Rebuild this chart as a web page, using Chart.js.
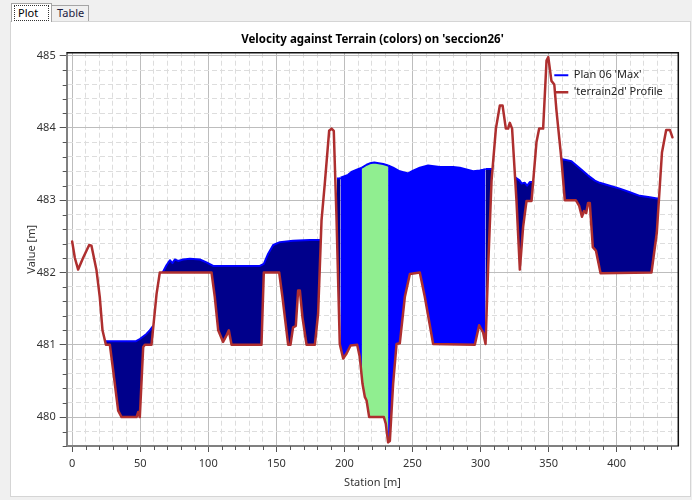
<!DOCTYPE html>
<html>
<head>
<meta charset="utf-8">
<script src="https://cdn.jsdelivr.net/npm/chart.js@4.4.1/dist/chart.umd.min.js"></script>
<style>
  body { margin: 0; width: 692px; height: 500px; background: #f0f0f0; position: relative; overflow: hidden; font-family: "Noto Sans", sans-serif; }
  .panel { position: absolute; left: 10px; top: 21px; width: 679px; height: 474px; background: #fff; border: 1px solid #d5d5d5; }
  .tab { position: absolute; box-sizing: border-box; font-size: 11px; line-height: 14px; color: #000; border: 1px solid #a5a5a5; border-bottom: none; }
  #tabPlot { left: 11px; top: 3px; width: 41px; height: 19px; background: #fff; z-index: 2; padding: 1px 2px; }
  #tabPlot span { display: block; border: 1px dotted #333; padding: 0 3px; height: 14px; }
  #tabTable { left: 51px; top: 5px; width: 38px; height: 16px; background: #f0f0f0; padding: 0 5px; color: #1a1a40; }
  #graph { position: absolute; left: 0; top: 0; }
</style>
</head>
<body>
<div class="panel"></div>
<div class="tab" id="tabPlot"><span>Plot</span></div>
<div class="tab" id="tabTable">Table</div>
<canvas id="graph" width="692" height="500"></canvas>
<script>
// terrain profile
const terrainStation = [0, 2, 4.4, 8, 12.5, 14.2, 17.9, 20.3, 22.3, 24.8, 27.7, 30.1, 33.8, 36.3, 47.3, 48.5, 49.7, 52.2, 53.4, 58.3,
  62, 64.4, 102.4, 104.8, 107.3, 110.9, 113.4, 115.1, 117.1, 139.1, 140.8, 152.1, 154.5, 158.7, 160.4, 162.3, 164.3, 166, 167.3, 169.2,
  172.2, 178.3, 180.7, 183.2, 185.6, 188.8, 190.6, 192.2, 194.2, 196.6, 199.1, 201.6, 204.5, 209.4, 211.3, 213.3, 215, 216.3, 218.2, 229,
  230.4, 232.1, 233.4, 235.8, 238.3, 240.7, 244.4, 248.1, 255.4, 259.1, 265.2, 295.8, 299, 301.9, 303.7, 305.6, 308.1, 311.3, 314.2, 316.2,
  318.6, 320.3, 321.5, 323.2, 326.4, 328.9, 331.3, 333.8, 337.5, 341.1, 343.1, 346, 348.5, 349.8, 352.1, 354.2, 355.8, 359.5, 361.9, 370,
  372.5, 374.5, 376, 377.6, 379, 380.3, 382.5, 384.8, 388.2, 425.6, 429.5, 433.3, 436.4, 439.2, 441];
const terrainElev = [482.43, 482.2, 482.04, 482.2, 482.38, 482.37, 482.03, 481.66, 481.2, 481.0, 481.0, 480.65, 480.09, 480.0, 480.0, 480.07, 480.0, 480.97, 481.0, 481.0,
  481.7, 482.0, 482.0, 481.66, 481.2, 481.04, 481.13, 481.2, 481.0, 481.0, 482.0, 482.0, 481.66, 481.0, 481.0, 481.24, 481.26, 481.75, 481.75, 481.38,
  481.0, 481.0, 481.43, 482.72, 483.23, 483.96, 483.99, 483.96, 482.76, 481.01, 480.81, 480.88, 480.99, 481.0, 480.83, 480.46, 480.28, 480.23, 480.0, 480.0,
  479.91, 479.65, 479.67, 480.46, 481.01, 481.02, 481.66, 481.98, 482.0, 481.66, 481.01, 481.0, 481.27, 481.17, 481.01, 482.07, 483.27, 483.99, 484.31, 484.31,
  483.99, 483.99, 484.07, 483.99, 483.0, 482.04, 482.63, 482.99, 482.99, 483.8, 483.99, 483.99, 484.93, 484.98, 484.65, 484.6, 484.24, 483.55, 483.0, 483.0,
  482.92, 482.77, 482.85, 482.82, 482.96, 482.96, 482.35, 482.3, 481.99, 482.0, 482.55, 483.66, 483.97, 483.97, 483.87];

// Plan 06 'Max' water surface (null = dry)
const wsStation = [23.9, 47, 49.7, 54.6, 57, 59.1, 59.6, 63,
  66.5, 69.3, 71.8, 73.7, 75.4, 77.9, 81.5, 86.5, 93.8, 98.7, 103.6, 118.3, 137.9, 140.8, 144, 147.7, 152.6, 162.3, 174.6, 182.1, 188,
  194.5, 196.6, 197.2, 202.7, 205.2, 210, 212.9, 216.3, 218.7, 222, 228.5, 232.1, 235.8, 240.7, 246.8, 250.5, 255.4, 261.5, 270.1, 279.9,
  284.8, 294.6, 299.5, 301.9, 303.7, 308.8, 316,
  324.6, 325.2, 328.9, 330.1, 332.6, 334.2, 336.2, 338.6, 350,
  359.2, 361.9, 366.8, 370.5, 374.2, 379.1, 384, 387.6, 395, 402.3, 409.7, 417, 424.4, 430.8];
const wsElev = [481.05, 481.05, 481.08, 481.15, 481.2, 481.25, 481.26, null,
  482.0, 482.1, 482.17, 482.13, 482.18, 482.16, 482.18, 482.19, 482.18, 482.14, 482.09, 482.09, 482.09, 482.12, 482.26, 482.38, 482.42, 482.44, 482.45, 482.45, null,
  483.3, 483.3, 483.31, 483.35, 483.39, 483.43, 483.45, 483.49, 483.51, 483.52, 483.5, 483.48, 483.45, 483.4, 483.37, 483.41, 483.45, 483.48, 483.46, 483.46,
  483.45, 483.4, 483.41, 483.42, 483.43, 483.43, null,
  483.32, 483.32, 483.27, 483.23, 483.24, 483.2, 483.25, 483.25, null,
  483.57, 483.56, 483.54, 483.48, 483.42, 483.34, 483.27, 483.24, 483.2, 483.16, 483.11, 483.06, 483.04, 483.02];
// velocity class of the cell starting at each point: 0 low, 1 mid, 2 high
const wsClass = [0, 0, 0, 0, 0, 0, 0, 0,
  0, 0, 0, 0, 0, 0, 0, 0, 0, 0, 0, 0, 0, 0, 0, 0, 0, 0, 0, 0, 0,
  0, 0, 1, 1, 1, 1, 2, 2, 2, 2, 2, 1, 1, 1, 1, 1, 1, 1, 1, 1,
  1, 1, 1, 1, 0, 0, 0,
  0, 0, 0, 0, 0, 0, 0, 0, 0,
  0, 0, 0, 0, 0, 0, 0, 0, 0, 0, 0, 0, 0, 0];

const velColors = ['#00008B', '#0000FF', '#90EE90'];

const isMajor = (v, step) => Math.abs(v / step - Math.round(v / step)) < 1e-6;
const majorStep = { x: 50, y: 1 };

Chart.defaults.font.family = "'Noto Sans', sans-serif";
Chart.defaults.font.size = 11;
Chart.defaults.color = '#333';

const framePlugin = {
  id: 'frame',
  beforeDraw(chart) {
    // legend sits inside the plot, top right
    const lg = chart.legend;
    const a = chart.chartArea;
    lg.left = a.right - 130;
    lg.top = a.top + 11;
    lg.right = lg.left + lg.width;
    lg.bottom = lg.top + lg.height;
  },
  afterDraw(chart) {
    const {ctx, chartArea: a, scales} = chart;
    ctx.save();
    ctx.strokeStyle = '#111';
    ctx.lineWidth = 1.5;
    ctx.beginPath();
    ctx.moveTo(a.left, a.top);
    ctx.lineTo(a.right, a.top);
    ctx.lineTo(a.right, a.bottom);
    ctx.stroke();
    // short minor ticks
    ctx.strokeStyle = '#555';
    ctx.lineWidth = 1;
    ctx.beginPath();
    scales.x.ticks.forEach(t => {
      if (isMajor(t.value, majorStep.x)) return;
      const px = Math.round(scales.x.getPixelForValue(t.value)) + 0.5;
      ctx.moveTo(px, a.bottom);
      ctx.lineTo(px, a.bottom + 4);
    });
    scales.y.ticks.forEach(t => {
      if (isMajor(t.value, majorStep.y)) return;
      const py = Math.round(scales.y.getPixelForValue(t.value)) + 0.5;
      ctx.moveTo(a.left, py);
      ctx.lineTo(a.left - 4, py);
    });
    ctx.stroke();
    ctx.restore();
  }
};

const graph = document.getElementById('graph');

const myChart = new Chart(graph, {
  type: 'line',
  data: {
    datasets: [
      {
        label: "Plan 06 'Max'",
        data: wsStation.map((x, i) => ({x, y: wsElev[i]})),
        borderColor: '#0000FF',
        backgroundColor: velColors[0],
        borderWidth: 2,
        borderJoinStyle: 'round',
        pointRadius: 0,
        pointStyle: 'line',
        fill: 1,
        order: 1,
        segment: {
          backgroundColor: c => velColors[wsClass[c.p0DataIndex]]
        }
      },
      {
        label: "'terrain2d' Profile",
        data: terrainStation.map((x, i) => ({x, y: terrainElev[i]})),
        borderColor: '#AE2F2F',
        backgroundColor: '#AE2F2F',
        borderWidth: 2.5,
        borderJoinStyle: 'round',
        borderCapStyle: 'round',
        pointRadius: 0,
        pointStyle: 'line',
        fill: false,
        order: 0
      }
    ]
  },
  options: {
    responsive: false,
    animation: false,
    devicePixelRatio: 1,
    layout: { padding: { left: 0, right: 13.7, top: 0, bottom: 0 } },
    plugins: {
      title: {
        display: true,
        text: "Velocity against Terrain (colors) on 'seccion26'",
        fullSize: false,
        color: '#000',
        font: { size: 11.5, weight: 'bold' },
        padding: { top: 33.1, bottom: 5.8 }
      },
      legend: {
        position: 'chartArea',
        align: 'start',
        labels: {
          usePointStyle: true,
          pointStyleWidth: 14,
          boxHeight: 11,
          padding: 6,
          color: '#222',
          font: { size: 11 },
          sort: (a, b) => a.datasetIndex - b.datasetIndex
        }
      },
      tooltip: { enabled: false }
    },
    scales: {
      x: {
        type: 'linear',
        min: -4,
        max: 445.3,
        ticks: {
          stepSize: 10,
          includeBounds: false,
          autoSkip: false,
          maxRotation: 0,
          minRotation: 0,
          padding: 5,
          color: '#333',
          callback: v => isMajor(v, majorStep.x) ? Math.round(v) : ''
        },
        grid: {
          color: c => (c.tick && !isMajor(c.tick.value, majorStep.x)) ? '#dddddd' : '#bdbdbd',
          tickColor: c => (c.tick && !isMajor(c.tick.value, majorStep.x)) ? 'rgba(0,0,0,0)' : '#555',
          tickLength: 6
        },
        border: {
          color: '#808080',
          width: 2,
          dash: c => (c.tick && !isMajor(c.tick.value, majorStep.x)) ? [5, 3] : []
        },
        title: { display: true, text: 'Station [m]', color: '#333', font: { size: 11 }, padding: { top: 0, bottom: 10.8 } },
        afterFit: s => { s.height = 54; }
      },
      y: {
        type: 'linear',
        min: 479.6,
        max: 485.04,
        ticks: {
          stepSize: 0.2,
          includeBounds: false,
          autoSkip: false,
          padding: 4,
          color: '#333',
          callback: v => isMajor(v, majorStep.y) ? String(Math.round(v)) : ''
        },
        grid: {
          color: c => (c.tick && !isMajor(c.tick.value, majorStep.y)) ? '#dddddd' : '#bdbdbd',
          tickColor: c => (c.tick && !isMajor(c.tick.value, majorStep.y)) ? 'rgba(0,0,0,0)' : '#555',
          tickLength: 7
        },
        border: {
          color: '#808080',
          width: 2,
          dash: c => (c.tick && !isMajor(c.tick.value, majorStep.y)) ? [5, 3] : []
        },
        title: { display: true, text: 'Value [m]', color: '#333', font: { size: 11 }, padding: { top: 24.8, bottom: 0 } },
        afterFit: s => { s.width = 66.7; }
      }
    }
  },
  plugins: [framePlugin]
});
</script>
</body>
</html>
